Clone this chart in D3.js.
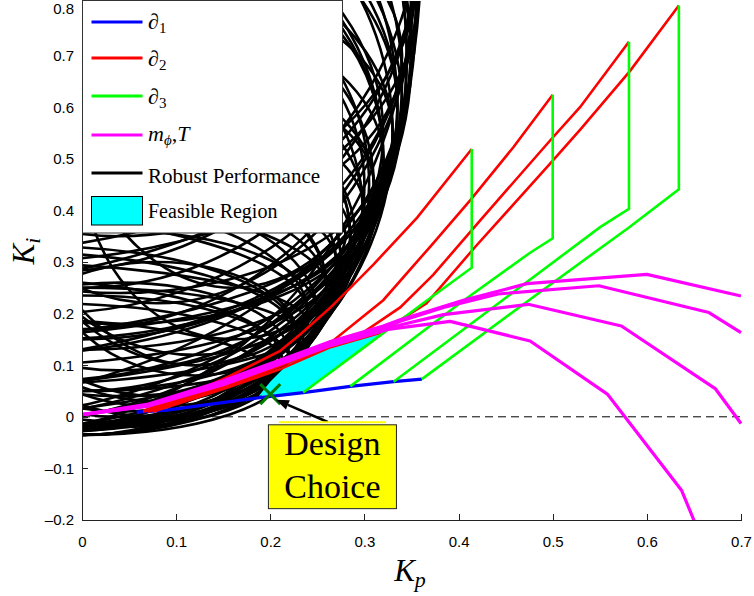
<!DOCTYPE html>
<html><head><meta charset="utf-8">
<script src="https://cdn.jsdelivr.net/npm/d3@7"></script>
<style>body{margin:0;background:#fff}svg{display:block}</style>
</head><body><svg id="c" width="754" height="596"></svg>
<script>
// ---------- DATA ----------
const xTicks=[0,0.1,0.2,0.3,0.4,0.5,0.6,0.7];
const yTicks=[-0.2,-0.1,0,0.1,0.2,0.3,0.4,0.5,0.6,0.7,0.8];

// ∂1 (blue)
const boundary1=[[0.058,0.009],[0.09,0.013],[0.189,0.037],[0.235,0.047],[0.285,0.059],[0.331,0.068],[0.361,0.073]];
// ∂2 (red)
const boundary2=[
 [[0.065,0.012],[0.11,0.04],[0.157,0.079],[0.21,0.127],[0.232,0.16],[0.264,0.212],[0.285,0.25],[0.31,0.296],[0.356,0.386],[0.414,0.519]],
 [[0.065,0.01],[0.11,0.035],[0.157,0.066],[0.21,0.104],[0.267,0.148],[0.32,0.226],[0.37,0.33],[0.4125,0.42],[0.458,0.522],[0.5,0.624]],
 [[0.07,0.01],[0.11,0.033],[0.157,0.062],[0.21,0.098],[0.264,0.138],[0.3,0.165],[0.338,0.212],[0.373,0.275],[0.426,0.387],[0.497,0.535],[0.529,0.6],[0.581,0.727]],
 [[0.075,0.01],[0.11,0.03],[0.157,0.058],[0.21,0.092],[0.264,0.135],[0.317,0.163],[0.366,0.22],[0.418,0.33],[0.46,0.415],[0.497,0.49],[0.529,0.556],[0.582,0.67],[0.634,0.797]]
];
// ∂3 (green)
const boundary3=[
 [[0.235,0.047],[0.30,0.135],[0.366,0.225],[0.414,0.289],[0.414,0.519]],
 [[0.285,0.059],[0.405,0.225],[0.476,0.318],[0.5,0.346],[0.5,0.624]],
 [[0.331,0.068],[0.446,0.225],[0.55,0.367],[0.581,0.403],[0.581,0.727]],
 [[0.361,0.073],[0.474,0.225],[0.581,0.367],[0.634,0.441],[0.634,0.797]]
];
// m_phi, T (magenta)
const mPhiT=[
 [[0,0.004],[0.069,0.024],[0.15,0.07],[0.221,0.117],[0.264,0.146],[0.32,0.176],[0.338,0.188],[0.37,0.206],[0.405,0.226],[0.4725,0.258],[0.6,0.276],[0.7,0.234]],
 [[0,0.004],[0.069,0.022],[0.15,0.067],[0.221,0.114],[0.264,0.143],[0.32,0.173],[0.338,0.185],[0.384,0.212],[0.442,0.238],[0.549,0.254],[0.666,0.202],[0.7,0.163]],
 [[0,0.004],[0.069,0.021],[0.15,0.064],[0.221,0.111],[0.264,0.14],[0.32,0.17],[0.338,0.178],[0.384,0.198],[0.474,0.218],[0.573,0.176],[0.673,0.054],[0.7,-0.013]],
 [[0,0.004],[0.069,0.02],[0.15,0.062],[0.221,0.109],[0.264,0.138],[0.327,0.17],[0.391,0.185],[0.476,0.147],[0.558,0.044],[0.637,-0.143],[0.651,-0.205]]
];
// Robust performance boundaries: ellipses [centreKp, centreKi, radiusKp, radiusKi]
const robustEllipses=[
 [0,0.10,0.222,0.135],[0,0.20,0.250,0.235],[0,0.30,0.275,0.335],[0,0.40,0.298,0.435],
 [0,0.55,0.330,0.585],[0,0.80,0.355,0.835],[-0.04,0.15,0.270,0.180],[-0.04,0.25,0.300,0.280],
 [-0.04,0.35,0.325,0.380],[-0.04,0.50,0.360,0.530],[-0.04,0.70,0.385,0.730],[-0.08,0.20,0.320,0.230],
 [-0.08,0.45,0.380,0.480],[-0.08,0.90,0.435,0.930],[0.04,0.12,0.180,0.140],[0.04,0.30,0.235,0.310],
 [0.04,0.50,0.280,0.500],[0.04,0.75,0.310,0.740],[0.08,0.25,0.180,0.230],[0.08,0.45,0.225,0.420],
 [0.08,0.70,0.265,0.660],[0.12,0.35,0.165,0.270],[0.12,0.60,0.215,0.500],[0.12,0.90,0.240,0.800],
 [0,0.60,0.335,0.450],[-0.04,0.80,0.390,0.600],[0,0.95,0.360,0.700],[-0.08,0.70,0.420,0.400],
 [0.04,0.90,0.315,0.550],[-0.04,0.45,0.350,0.300],[0,0.35,0.285,0.220],[-0.08,0.30,0.350,0.200],
 [0.04,0.20,0.210,0.160],[-0.04,0.10,0.255,0.120],[0.08,0.15,0.150,0.150],[0.16,0.50,0.160,0.350],
 [0.16,0.80,0.195,0.550],[-0.12,0.60,0.460,0.620],[-0.12,0.35,0.410,0.380],[0.04,0.40,0.260,0.220],
 [0,0.70,0.350,0.650],[-0.04,0.60,0.375,0.530],[0.04,0.65,0.300,0.560],[-0.08,0.55,0.410,0.430],
 [0,0.90,0.360,0.730],[0.08,0.90,0.280,0.680],[-0.04,1.00,0.400,0.720],[-0.12,0.85,0.475,0.530],
 [0.12,0.45,0.190,0.330],[0.04,0.55,0.290,0.310],[-0.08,0.15,0.310,0.170],[0,0.25,0.260,0.200],
 [-0.16,0.30,0.430,0.320],[-0.16,0.55,0.480,0.560],[-0.20,0.40,0.500,0.420],[-0.20,0.70,0.550,0.680],
 [-0.16,0.20,0.400,0.200],[-0.12,0.12,0.330,0.150],[-0.20,0.25,0.460,0.200],[-0.20,0.50,0.520,0.400],
 [-0.16,0.45,0.470,0.300],[-0.20,0.80,0.555,0.550],[-0.12,0.18,0.360,0.120],[-0.16,0.35,0.440,0.200],
 [0,0.15,0.235,0.100],[-0.08,0.08,0.280,0.110]
];
// Feasible region (cyan)
const feasibleRegion=[[0.188,0.041],[0.235,0.047],[0.325,0.17],[0.264,0.139],[0.228,0.115],[0.2175,0.1],[0.2,0.068]];
const designChoice=[0.2,0.044];
const legendLabels=["∂1","∂2","∂3","mϕ,T","Robust Performance","Feasible Region"];

// ---------- LAYOUT ----------
const svg=d3.select('#c');
const x=d3.scaleLinear().domain([0,0.7]).range([82,741]);
const y=d3.scaleLinear().domain([-0.2,0.8]).range([520,4]);
const serif='"Liberation Serif","DejaVu Serif",serif';
const sans='"Liberation Sans",Arial,sans-serif';
const line=d3.line().x(d=>x(d[0])).y(d=>y(d[1]));

svg.append('defs').append('clipPath').attr('id','clip').append('rect')
  .attr('x',x(0)).attr('y',y(0.8)-3).attr('width',x(0.7)-x(0)+1.5).attr('height',y(-0.2)-y(0.8)+3);

const plot=svg.append('g').attr('clip-path','url(#clip)');

// zero dashed line
plot.append('line').attr('x1',x(0)).attr('x2',x(0.7)).attr('y1',y(0)).attr('y2',y(0))
  .attr('stroke','#000').attr('stroke-width',1).attr('stroke-dasharray','8,5');

// robust performance ellipses
plot.append('g').selectAll('ellipse').data(robustEllipses).join('ellipse')
  .attr('cx',d=>x(d[0])).attr('cy',d=>y(d[1]))
  .attr('rx',d=>x(d[0]+d[2])-x(d[0])).attr('ry',d=>y(d[1]-d[3])-y(d[1]))
  .attr('fill','none').attr('stroke','#000').attr('stroke-width',2.6);

// feasible region
plot.append('path').attr('d',line(feasibleRegion)+'Z').attr('fill','#00ffff');

// boundaries
plot.append('path').attr('d',line(boundary1)).attr('fill','none').attr('stroke','#0000ff').attr('stroke-width',3.2);
plot.append('g').selectAll('path').data(boundary2).join('path').attr('d',d=>line(d))
  .attr('fill','none').attr('stroke','#ff0000').attr('stroke-width',2.6);
plot.append('g').selectAll('path').data(boundary3).join('path').attr('d',d=>line(d))
  .attr('fill','none').attr('stroke','#00ff00').attr('stroke-width',2.6);
plot.append('g').selectAll('path').data(mPhiT).join('path').attr('d',d=>line(d))
  .attr('fill','none').attr('stroke','#ff00ff').attr('stroke-width',3.2).attr('stroke-linejoin','round');

// design choice marker
{
  const cx=x(designChoice[0]), cy=y(designChoice[1]), s=10;
  svg.append('path').attr('d',`M${cx-s},${cy-s}L${cx+s},${cy+s}M${cx-s},${cy+s}L${cx+s},${cy-s}`)
    .attr('stroke','#007a00').attr('stroke-width',3).attr('fill','none');
}

// axes
const fmt=v=>v===0?'0':(v<0?'–'+d3.format('.1f')(-v):d3.format('.1f')(v));
const gx=svg.append('g').attr('transform',`translate(0,${y(-0.2)})`)
  .call(d3.axisBottom(x).tickValues(xTicks).tickSize(-6).tickSizeOuter(0).tickPadding(16).tickFormat(fmt));
const gy=svg.append('g').attr('transform',`translate(${x(0)},0)`)
  .call(d3.axisLeft(y).tickValues(yTicks).tickSize(-6).tickSizeOuter(0).tickPadding(8).tickFormat(fmt));
[gx,gy].forEach(g=>{
  g.selectAll('path,line').attr('stroke','#222').attr('shape-rendering','crispEdges');
  g.selectAll('text').attr('font-family',sans).attr('font-size',15).attr('fill','#000');
});
gy.selectAll('.tick').filter(d=>d===0.8).select('text').attr('dy','0.62em');

// axis labels
const xl=svg.append('text').attr('x',410).attr('y',581).attr('text-anchor','middle')
  .attr('font-family',serif).attr('font-style','italic').attr('font-size',31);
xl.append('tspan').text('K');
xl.append('tspan').attr('font-size',22).attr('dy',6).text('p');
const yl=svg.append('text').attr('transform','translate(34,251) rotate(-90)').attr('text-anchor','middle')
  .attr('font-family',serif).attr('font-style','italic').attr('font-size',31);
yl.append('tspan').text('K');
yl.append('tspan').attr('font-size',22).attr('dy',6).text('i');

// annotation arrow + box
{
  const tail=[0.261,-0.01], tip=[0.206,0.033];
  const x1=x(tail[0]),y1=y(tail[1]),x2=x(tip[0]),y2=y(tip[1]);
  const ang=Math.atan2(y2-y1,x2-x1), L=13, Wd=5;
  const bx=x2-L*Math.cos(ang), by=y2-L*Math.sin(ang);
  svg.append('line').attr('x1',x1).attr('y1',y1).attr('x2',bx).attr('y2',by).attr('stroke','#000').attr('stroke-width',2.6);
  svg.append('path').attr('d',`M${x2},${y2}L${bx+Wd*Math.sin(ang)},${by-Wd*Math.cos(ang)}L${bx-Wd*Math.sin(ang)},${by+Wd*Math.cos(ang)}Z`).attr('fill','#000');
  const b0=[0.198,-0.0155], b1=[0.334,-0.178];
  svg.append('line').attr('x1',x(0.209)).attr('x2',x(0.323)).attr('y1',y(b0[1])-2.5).attr('y2',y(b0[1])-2.5)
    .attr('stroke','#ffff00').attr('stroke-width',2);
  svg.append('rect').attr('x',x(b0[0])).attr('y',y(b0[1])).attr('width',x(b1[0])-x(b0[0])).attr('height',y(b1[1])-y(b0[1]))
    .attr('fill','#ffff00').attr('stroke','#222').attr('stroke-width',1);
  const mx=(x(b0[0])+x(b1[0]))/2;
  svg.append('text').attr('x',mx).attr('y',455).attr('text-anchor','middle').attr('font-family',serif).attr('font-size',34).text('Design');
  svg.append('text').attr('x',mx).attr('y',498).attr('text-anchor','middle').attr('font-family',serif).attr('font-size',34).text('Choice');
}

// legend
{
  const lg=svg.append('g');
  lg.append('rect').attr('x',82.5).attr('y',0.5).attr('width',260).attr('height',232.5)
    .attr('fill','#fff').attr('stroke','#333').attr('stroke-width',1);
  const cols=['#0000ff','#ff0000','#00ff00','#ff00ff','#000000'];
  const ly=[22,58,96,135,173];
  const ty=[29,66,104,141,183];
  cols.forEach((c,i)=>{
    lg.append('line').attr('x1',91.5).attr('x2',142.5).attr('y1',ly[i]).attr('y2',ly[i]).attr('stroke',c).attr('stroke-width',3);
  });
  lg.append('rect').attr('x',91.5).attr('y',196.5).attr('width',51).attr('height',28.5).attr('fill','#00ffff').attr('stroke','#000').attr('stroke-width',1);
  for(let i=0;i<3;i++){
    const t=lg.append('text').attr('x',148).attr('y',ty[i]).attr('font-family',serif).attr('font-size',22);
    t.append('tspan').attr('font-style','italic').text(legendLabels[i][0]);
    t.append('tspan').attr('font-size',15).attr('dy',4).text(legendLabels[i][1]);
  }
  {
    const t=lg.append('text').attr('x',148).attr('y',ty[3]).attr('font-family',serif).attr('font-size',22).attr('font-style','italic');
    t.append('tspan').text('m');
    t.append('tspan').attr('font-size',15).attr('dy',4).text('ϕ');
    t.append('tspan').attr('dy',-4).attr('font-style','normal').text(',');
    t.append('tspan').text('T');
  }
  lg.append('text').attr('x',148).attr('y',ty[4]).attr('font-family',serif).attr('font-size',21).text(legendLabels[4]);
  lg.append('text').attr('x',148).attr('y',218).attr('font-family',serif).attr('font-size',20).text(legendLabels[5]);
}
</script></body></html>
